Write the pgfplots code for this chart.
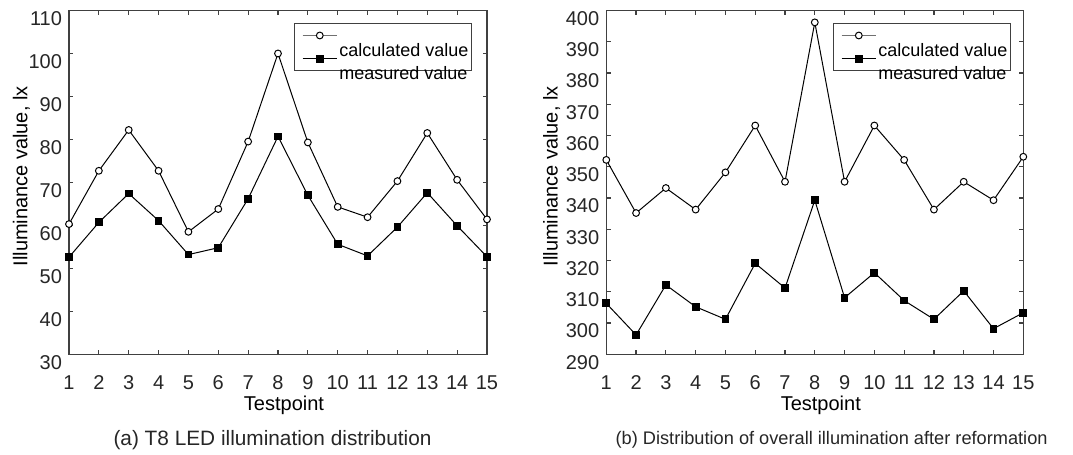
\documentclass[border=0pt]{standalone}
\usepackage{pgfplots}
\pgfplotsset{compat=1.18}
\usepackage{fontspec}
\setmainfont{Liberation Sans}

\definecolor{axgray}{HTML}{404040}
\definecolor{txtgray}{HTML}{262626}
\definecolor{leggray}{HTML}{707070}

\newcommand\legtext[1]{\raisebox{-11.2pt}[0pt][0pt]{\makebox[61pt][l]{#1}}}

\pgfplotsset{
  mlab/.style={
    scale only axis,
    height=171.9pt,
    xmin=1, xmax=15,
    xtick={1,...,15},
    tick align=inside,
    xtick pos=both, ytick pos=both,
    major tick length=2.2pt,
    axis line style={axgray, line width=0.7pt},
    every tick/.style={axgray, line width=0.6pt},
    /pgf/number format/assume math mode=true,
    tick label style={font=\fontsize{10}{12}\selectfont, text=txtgray},
    yticklabel style={yshift=-4pt},
    xticklabel style={yshift=-7.3pt},
    xlabel={Testpoint},
    ylabel={Illuminance value, lx},
    label style={font=\fontsize{10}{12}\selectfont},
    xlabel style={at={(axis description cs:0.5,0)}, anchor=center, yshift=-25.3pt, xshift=3pt},
    legend cell align=left,
    legend style={draw=axgray, line width=0.5pt, fill=white,
      font=\fontsize{9}{10}\selectfont, anchor=north west,
      inner xsep=4pt, inner ysep=0pt,
      nodes={inner sep=1pt, minimum height=11.7pt}},
  },
  calc/.style={black, line width=0.5pt, mark=*, mark size=1.7pt,
    mark options={fill=white, draw=black, line width=0.5pt}},
  meas/.style={black, line width=0.5pt, mark=square*, mark size=1.7pt,
    mark options={fill=black, draw=black}},
}

% (a) T8 LED
\pgfplotstableread{
x calc meas
1  60.3 52.6
2  72.7 60.7
3  82.2 67.4
4  72.7 61.1
5  58.5 53.2
6  63.8 54.8
7  79.5 66.2
8  100.0 80.7
9  79.3 67.0
10 64.3 55.6
11 61.9 52.9
12 70.3 59.6
13 81.5 67.6
14 70.6 59.9
15 61.4 52.7
}\tabA

% (b) after reformation
\pgfplotstableread{
x calc meas
1  352.2 306.3
2  335.2 296.2
3  343.2 312.2
4  336.3 305.2
5  348.2 301.2
6  363.2 319.1
7  345.2 311.2
8  396.2 339.3
9  345.2 308.1
10 363.2 316.1
11 352.2 307.2
12 336.3 301.2
13 345.2 310.3
14 339.3 298.2
15 353.2 303.3
}\tabB

\begin{document}
\begin{tikzpicture}
\path[use as bounding box] (0,0) rectangle (536.5pt,227.5pt);

\begin{axis}[mlab,
  at={(34.5pt,50.35pt)}, anchor=south west,
  width=209pt,
  ymin=30, ymax=110, ytick={30,40,...,110},
  ylabel style={at={(axis description cs:-0.1136,0.5175)}, anchor=center},
  legend style={at={(axis description cs:0.5376,0.9628)}},
]
\addplot[calc, legend image post style={draw=leggray}] table[x=x, y=calc] {\tabA};
\addlegendentry{\legtext{calculated value}}
\addplot[meas] table[x=x, y=meas] {\tabA};
\addlegendentry{\legtext{measured value}}
\end{axis}

\begin{axis}[mlab,
  at={(303.15pt,50.35pt)}, anchor=south west,
  width=208.5pt,
  ymin=290, ymax=400, ytick={290,300,...,400},
  ylabel style={at={(axis description cs:-0.131,0.5175)}, anchor=center},
  legend style={at={(axis description cs:0.543,0.9628)}},
]
\addplot[calc, legend image post style={draw=leggray}] table[x=x, y=calc] {\tabB};
\addlegendentry{\legtext{calculated value}}
\addplot[meas] table[x=x, y=meas] {\tabB};
\addlegendentry{\legtext{measured value}}
\end{axis}

\node[font=\fontsize{10.4}{12}\selectfont, text=txtgray] at (136.25pt,7.5pt) {(a) T8 LED illumination distribution};
\node[font=\fontsize{9.1}{11}\selectfont, text=txtgray] at (415.8pt,7.5pt) {(b) Distribution of overall illumination after reformation};
\end{tikzpicture}
\end{document}
